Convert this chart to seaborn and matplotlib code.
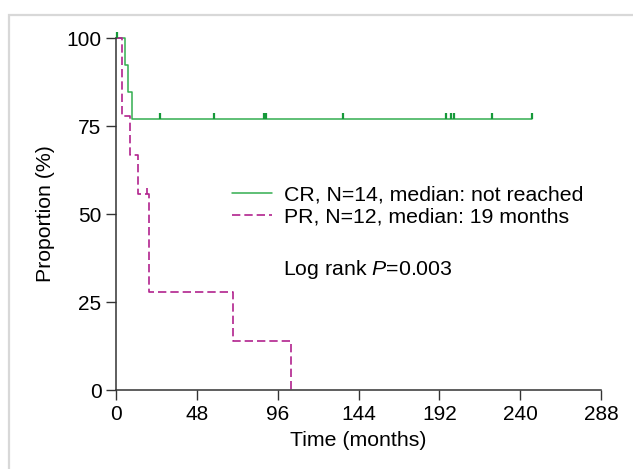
import numpy as np
import pandas as pd
import matplotlib
matplotlib.use("Agg")
import matplotlib.pyplot as plt
import seaborn as sns
from matplotlib.path import Path
from matplotlib.patches import Rectangle

# =====================================================
# DATA
# =====================================================

cr_time = [0, 5.3, 7.3, 9.3, 247]
cr_surv = [100, 92.3, 84.6, 76.9, 76.9]
cr_cens_time = [0.8, 26, 58, 88, 89, 135, 196, 199, 201, 223, 247]
cr_cens_surv = [100, 76.9, 76.9, 76.9, 76.9, 76.9, 76.9, 76.9, 76.9, 76.9, 76.9]

pr_time = [0, 3.3, 8.3, 12.8, 19.5, 69.7, 104]
pr_surv = [100, 77.8, 66.7, 55.6, 27.8, 13.9, 0]
pr_cens_time = [18.2]
pr_cens_surv = [55.6]

labels = ["CR, N=14, median: not reached", "PR, N=12, median: 19 months"]
x_ticks = [0, 48, 96, 144, 192, 240, 288]
y_ticks = [0, 25, 50, 75, 100]

green = "#33ad4f"
green_tick = "#16993a"
magenta = "#b2228e"

# =====================================================
# STYLE
# =====================================================

sns.set_style("ticks")
plt.rcParams["font.family"] = ["Liberation Sans", "DejaVu Sans"]
plt.rcParams["mathtext.fontset"] = "custom"
plt.rcParams["mathtext.rm"] = "Liberation Sans"
plt.rcParams["mathtext.it"] = "Liberation Sans:italic"
plt.rcParams["text.color"] = "black"
plt.rcParams["axes.labelcolor"] = "black"
plt.rcParams["xtick.labelcolor"] = "black"
plt.rcParams["ytick.labelcolor"] = "black"

fs = 15.3
fs_tick = 15

fig = plt.figure(figsize=(6.33, 4.69), dpi=100)
ax = fig.add_axes([116 / 633, 79 / 469, 485 / 633, 352 / 469])

# grey frame around the panel (top and left visible)
fig.add_artist(Rectangle((9 / 633, -0.2), 1.2, 1.2 - 15 / 469,
                         transform=fig.transFigure, fill=False,
                         edgecolor="#d8d8d8", linewidth=1.6))

# =====================================================
# CURVES
# =====================================================

cr = pd.DataFrame({"t": cr_time, "s": cr_surv})
pr = pd.DataFrame({"t": pr_time, "s": pr_surv})

sns.lineplot(data=cr, x="t", y="s", ax=ax, estimator=None, sort=False,
             drawstyle="steps-post", color=green, linewidth=1.1,
             label=labels[0], clip_on=False)
sns.lineplot(data=pr, x="t", y="s", ax=ax, estimator=None, sort=False,
             drawstyle="steps-post", color=magenta, linewidth=1.2,
             linestyle=(0, (5, 2.4)), label=labels[1], clip_on=False)

# censor marks (short ticks above the line)
up_tick = Path([(0, 0), (0, 1)])
ax.plot(cr_cens_time, cr_cens_surv, linestyle="none", marker=up_tick,
        markersize=8, markeredgewidth=1.6, color=green_tick, clip_on=False)
ax.plot(pr_cens_time, pr_cens_surv, linestyle="none", marker=up_tick,
        markersize=8, markeredgewidth=1.2, color=magenta, clip_on=False)

# =====================================================
# AXES
# =====================================================

ax.set_xlim(0, 288)
ax.set_ylim(0, 100)
ax.set_xticks(x_ticks)
ax.set_yticks(y_ticks)
ax.tick_params(axis="both", labelsize=fs_tick, length=7, width=1, color="#333333")
ax.set_xlabel("Time (months)", fontsize=fs, labelpad=5)
ax.set_ylabel("Proportion (%)", fontsize=fs, labelpad=8)
sns.despine(ax=ax)
for side in ["left", "bottom"]:
    ax.spines[side].set_color("#333333")
    ax.spines[side].set_linewidth(1.1)

leg = ax.legend(loc="upper left", bbox_to_anchor=(0.239, 0.580),
                frameon=False, fontsize=fs, borderpad=0, borderaxespad=0,
                handlelength=1.9, handletextpad=0.55, labelspacing=0.12)

ax.text(0.345, 0.341, r"Log rank $P$=0.003", transform=ax.transAxes,
        fontsize=fs, va="center", ha="left")

fig.savefig("out.png", dpi=100)
